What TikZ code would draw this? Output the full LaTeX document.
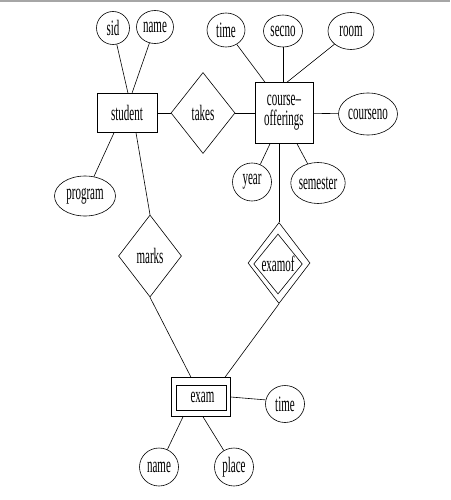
\documentclass[tikz,border=0pt]{standalone}
\usepackage{fontspec}
\setmainfont{Liberation Serif}[FakeStretch=0.5]
\usetikzlibrary{shapes.geometric}
\begin{document}
\begin{tikzpicture}[x=1pt,y=-1pt,
  every node/.style={font=\fontsize{22}{20}\selectfont, inner sep=0pt, line width=0.6pt},
  attr/.style={draw, ellipse},
  ent/.style={draw, rectangle, align=center},
  rel/.style={draw, diamond},
  conn/.style={line width=0.6pt}]
\useasboundingbox (0,0) rectangle (450,500);
\fill[gray!70] (0,0) rectangle (450,1.6);
% entities
\node[ent, minimum width=60, minimum height=39] (student) at (127,113) {student};
\node[ent, minimum width=58, minimum height=61] (co) at (284,113) {course–\\offerings};
\node[draw, rectangle, minimum width=59, minimum height=39] (exam) at (201,397) {};
\node[draw, rectangle, minimum width=50, minimum height=25] (examin) at (201,397.5) {\hspace*{3pt}exam};
% relationships
\node[rel, minimum width=64, minimum height=81] (takes) at (203,113) {takes};
\node[rel, minimum width=63, minimum height=82] (marks) at (150,256) {marks};
\node[rel, minimum width=62, minimum height=81] (examof) at (279,263) {};
\node[rel, minimum width=48, minimum height=60] (examofin) at (278,264) {examof};
% attributes
\node[attr, minimum width=33, minimum height=33] (sid) at (113,28) {sid};
\node[attr, minimum width=37, minimum height=33] (name) at (155,27) {name};
\node[attr, minimum width=38, minimum height=34] (time) at (226,30) {time};
\node[attr, minimum width=39, minimum height=32] (secno) at (283,31) {secno};
\node[attr, minimum width=46, minimum height=37] (room) at (351,31) {room};
\node[attr, minimum width=59, minimum height=42] (courseno) at (368,114) {courseno};
\node[attr, minimum width=39, minimum height=38] (year) at (252,182) {year};
\node[attr, minimum width=54, minimum height=41] (semester) at (318,183) {semester};
\node[attr, minimum width=61, minimum height=40] (program) at (85,196) {program};
\node[attr, minimum width=39, minimum height=37] (time2) at (285,404) {time};
\node[attr, minimum width=39, minimum height=38] (name2) at (159,467) {name};
\node[attr, minimum width=39, minimum height=38] (place) at (234,467) {place};
% connectors
\draw[conn] (sid) -- ([xshift=1]student.north);
\draw[conn] (name) -- ([xshift=5]student.north);
\draw[conn] (student) -- (takes);
\draw[conn] (takes) -- (co);
\draw[conn] (time) -- ([xshift=-19]co.north);
\draw[conn] (secno.south) -- (secno.south |- co.north);
\draw[conn] (room) -- ([xshift=3]co.north);
\draw[conn] (co) -- (courseno);
\draw[conn] ([xshift=-14]co.south) -- (year);
\draw[conn] ([xshift=13]co.south) -- (semester);
\draw[conn] (examof.north) -- (examof.north |- co.south);
\draw[conn] ([xshift=-13]student.south) -- (program);
\draw[conn] ([xshift=9]student.south) -- (marks.north);
\draw[conn] (marks.south) -- ([xshift=-10]exam.north);
\draw[conn] (examof.south) -- ([xshift=24]exam.north);
\draw[conn] (exam.east) -- (time2.168);
\draw[conn] ([xshift=-18]exam.south) -- (name2);
\draw[conn] ([xshift=2]exam.south) -- (place);
\end{tikzpicture}
\end{document}
